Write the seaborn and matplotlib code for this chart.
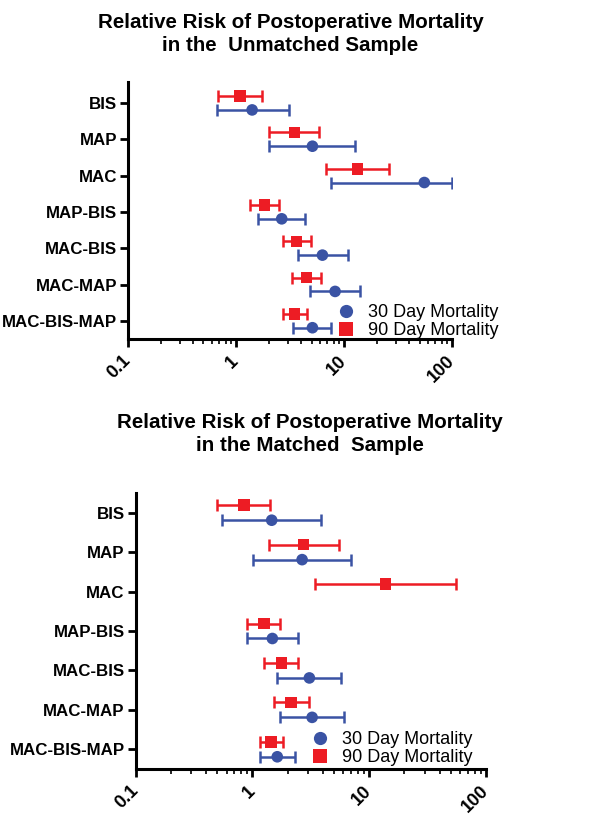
import numpy as np
import pandas as pd
import matplotlib
matplotlib.use("Agg")
import matplotlib.pyplot as plt
import seaborn as sns
from matplotlib.ticker import LogLocator, FixedLocator, NullFormatter

categories = ["BIS", "MAP", "MAC", "MAP-BIS", "MAC-BIS", "MAC-MAP", "MAC-BIS-MAP"]

# Unmatched sample
un_30_est = [1.41, 5.1, 55.4, 2.65, 6.31, 8.27, 5.1]
un_30_lo = [0.66, 2.03, 7.65, 1.61, 3.75, 4.85, 3.40]
un_30_hi = [3.07, 12.6, 100.0, 4.39, 10.8, 14.2, 7.65]
un_90_est = [1.09, 3.47, 13.3, 1.83, 3.62, 4.48, 3.49]
un_90_lo = [0.68, 2.03, 6.78, 1.35, 2.72, 3.30, 2.72]
un_90_hi = [1.73, 5.84, 26.0, 2.52, 4.92, 6.09, 4.52]

# Matched sample
m_30_est = [1.46, 2.66, np.nan, 1.48, 3.07, 3.24, 1.63]
m_30_lo = [0.55, 1.02, np.nan, 0.90, 1.63, 1.73, 1.15]
m_30_hi = [3.87, 7.03, np.nan, 2.44, 5.77, 6.08, 2.30]
m_90_est = [0.85, 2.73, 13.8, 1.25, 1.77, 2.13, 1.44]
m_90_lo = [0.50, 1.39, 3.46, 0.90, 1.26, 1.52, 1.15]
m_90_hi = [1.41, 5.48, 55.4, 1.72, 2.46, 3.07, 1.82]

series_names = ["30 Day Mortality", "90 Day Mortality"]
xtick_vals = [0.1, 1, 10, 100]
xtick_labels = ["0.1", "1", "10", "100"]

BLUE = "#3A53A4"
RED = "#ED1C24"

sns.set_style("ticks")
plt.rcParams["font.family"] = ["Liberation Sans", "DejaVu Sans"]
plt.rcParams["text.color"] = "black"
plt.rcParams["xtick.color"] = "black"
plt.rcParams["ytick.color"] = "black"
plt.rcParams["axes.labelcolor"] = "black"

fig = plt.figure(figsize=(6.13, 8.18), dpi=100)


def panel(ax, d30, d90, ylim_top, legend_anchor):
    rows = []
    for i, c in enumerate(categories):
        rows.append(dict(cat=c, pos=i + 0.19, est=d30[0][i], lo=d30[1][i], hi=d30[2][i], series=series_names[0]))
        rows.append(dict(cat=c, pos=i - 0.19, est=d90[0][i], lo=d90[1][i], hi=d90[2][i], series=series_names[1]))
    df = pd.DataFrame(rows)
    for s, col in zip(series_names, [BLUE, RED]):
        sub = df[df.series == s].dropna()
        ax.errorbar(sub.est, sub.pos,
                    xerr=[sub.est - sub.lo, sub.hi - sub.est],
                    fmt="none", ecolor=col, elinewidth=1.8, capsize=4.5, capthick=1.8, zorder=2)
    sns.scatterplot(data=df.dropna(), x="est", y="pos", hue="series", style="series",
                    markers={series_names[0]: "o", series_names[1]: "s"},
                    palette={series_names[0]: BLUE, series_names[1]: RED},
                    s=70, edgecolor="none", linewidth=0, ax=ax, zorder=3, legend=True)
    ax.set_xscale("log")
    ax.set_xlim(0.1, 100)
    ax.set_ylim(6.5, ylim_top)
    ax.set_yticks(range(len(categories)))
    ax.set_yticklabels(categories, fontsize=12.2, fontweight="bold")
    ax.xaxis.set_major_locator(FixedLocator(xtick_vals))
    ax.set_xticklabels(xtick_labels, fontsize=13.0, fontweight="bold",
                       rotation=45, ha="right", va="center", rotation_mode="anchor")
    ax.xaxis.set_minor_locator(LogLocator(base=10, subs=np.arange(2, 10)))
    ax.xaxis.set_minor_formatter(NullFormatter())
    ax.set_xlabel("")
    ax.set_ylabel("")
    for sp in ["top", "right"]:
        ax.spines[sp].set_visible(False)
    for sp in ["left", "bottom"]:
        ax.spines[sp].set_linewidth(2.2)
        ax.spines[sp].set_color("black")
    ax.tick_params(axis="both", which="major", length=6, width=2.0, color="black", pad=2)
    ax.tick_params(axis="x", which="minor", length=3.5, width=1.2, color="black")
    ax.tick_params(axis="x", which="major", pad=8)
    handles, labels = ax.get_legend_handles_labels()
    for h in handles:
        try:
            h.set_markersize(9.5)
        except Exception:
            pass
    ax.legend(handles, labels, loc="lower left", bbox_to_anchor=legend_anchor,
              bbox_transform=fig.transFigure, frameon=False,
              prop={"family": "Liberation Sans", "size": 13.0},
              handletextpad=0.75, labelspacing=0.08, borderpad=0, borderaxespad=0,
              handlelength=1.0)


ax1 = fig.add_axes([0.2088, 0.5856, 0.5286, 0.3142])
panel(ax1, (un_30_est, un_30_lo, un_30_hi), (un_90_est, un_90_lo, un_90_hi), -0.58, (0.549, 0.585))

ax2 = fig.add_axes([0.2214, 0.0599, 0.5715, 0.3374])
panel(ax2, (m_30_est, m_30_lo, m_30_hi), (m_90_est, m_90_lo, m_90_hi), -0.5, (0.507, 0.063))

fig.text(0.474, 0.984, "Relative Risk of Postoperative Mortality\nin the  Unmatched Sample",
         ha="center", va="top", fontsize=14.8, fontweight="bold", linespacing=1.25)
fig.text(0.506, 0.495, "Relative Risk of Postoperative Mortality\nin the Matched  Sample",
         ha="center", va="top", fontsize=14.8, fontweight="bold", linespacing=1.25)

fig.savefig("out.png", dpi=100)
